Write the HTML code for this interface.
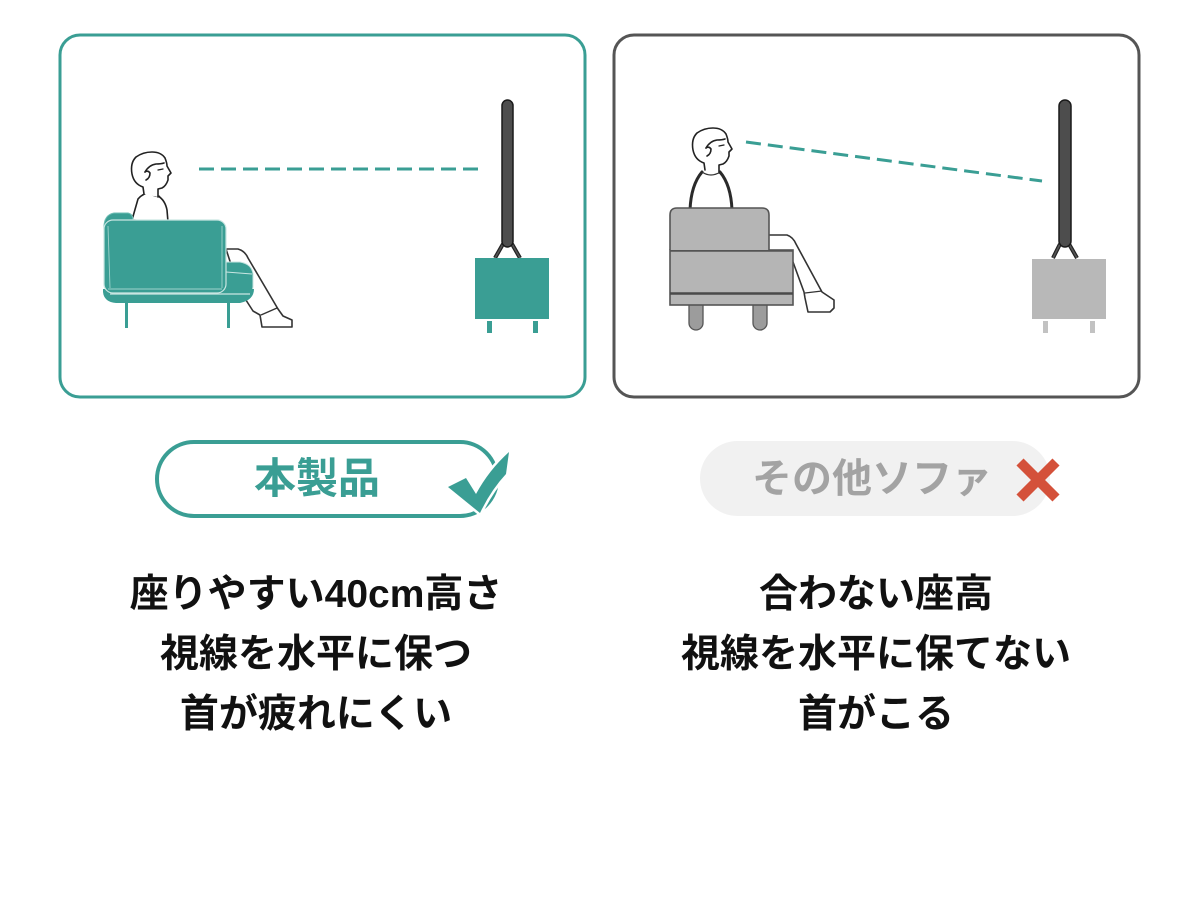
<!DOCTYPE html>
<html><head><meta charset="utf-8">
<style>
html,body{margin:0;padding:0;background:#fff;}
body{width:1200px;height:916px;position:relative;overflow:hidden;font-family:"Liberation Sans","Noto Sans CJK JP",sans-serif;}
.t{position:absolute;font-weight:700;white-space:nowrap;font-family:"Liberation Sans","Noto Sans CJK JP",sans-serif;}
.main{font-size:39px;line-height:60px;color:#111;text-align:center;width:560px;}
</style></head><body>
<svg width="1200" height="916" viewBox="0 0 1200 916" style="position:absolute;left:0;top:0">
  <!-- panels -->
  <rect x="60" y="35" width="525" height="362" rx="20" fill="#fff" stroke="#3a9e94" stroke-width="3"/>
  <rect x="614" y="35" width="525" height="362" rx="20" fill="#fff" stroke="#555" stroke-width="3"/>

  <!-- LEFT dashed -->
  <line x1="199" y1="169" x2="482" y2="169" stroke="#3a9e94" stroke-width="3" stroke-dasharray="15 7"/>
  <!-- LEFT TV -->
  <path d="M503 244 L495 258 M512 244 L520 258" stroke="#222" stroke-width="4" fill="none"/>
  <path d="M503 244 L495 258 M512 244 L520 258" stroke="#555" stroke-width="1.6" fill="none"/>
  <rect x="502" y="100" width="11" height="147" rx="5.5" fill="#4d4d4d" stroke="#1a1a1a" stroke-width="1.5"/>
  <rect x="475" y="258" width="74" height="61" fill="#3a9e94"/>
  <rect x="487" y="321" width="5" height="12" fill="#3a9e94"/>
  <rect x="533" y="321" width="5" height="12" fill="#3a9e94"/>

  <!-- LEFT person leg -->
  <path d="M226 249 L238 249 Q245 251 248 258 L278 309 L283 316 L292 320 L292 327 L262 327 L260 315 L253 311 L244 297 L240 292 Z" fill="#fff" stroke="#333" stroke-width="1.6" stroke-linejoin="round"/>
  <path d="M261 315 L277 308" stroke="#333" stroke-width="1.4" fill="none"/>
  <!-- LEFT person torso -->
  <path d="M132 220 L138 199 Q143 193 150 193 L158 196 Q165 200 167 210 L168 222 Z" fill="#fff" stroke="#222" stroke-width="1.6"/>
  <path d="M150 193 Q155 198 160 196" stroke="#222" stroke-width="1.2" fill="none"/>
  <!-- LEFT head -->
  <g id="headL" fill="#fff" stroke="#222" stroke-width="1.6" stroke-linejoin="round" stroke-linecap="round">
    <path d="M144 194 L143 187 Q134 184 132 174 Q130 163 136 157 Q143 152 152 152 Q161 152 165 158 Q167 163 167 166 L171 173 L168 176 L168 180 Q166 186 162 188 L158 189 L158 197"/>
    <path d="M145 172 Q148 170 150 173 Q150 178 146 180" fill="none"/>
    <path d="M145 172 Q149 165 156 164 Q161 164 164 163" fill="none"/>
    <path d="M158 170 L163 169" fill="none" stroke-width="1.3"/>
  </g>
  <!-- LEFT sofa -->
  <path d="M104 230 Q103 215 114 213 L128 213 Q133 214 133 220 L133 230 Z" fill="#3a9e94" stroke="#6fbdb4" stroke-width="1"/>
  <path d="M222 262 L240 262 Q252 264 253 274 L253 287 Q252 296 240 300 L222 300 Z" fill="#3a9e94" stroke="#c9e6e2" stroke-width="1"/>
  <path d="M103 289 L254 289 Q254 300 240 303 L116 303 Q104 302 103 292 Z" fill="#3a9e94"/>
  <path d="M110 294 L250 294" stroke="#c9e6e2" stroke-width="1.2"/>
  <rect x="104" y="220" width="122" height="73" rx="9" fill="#3a9e94" stroke="#c9e6e2" stroke-width="1.2"/>
  <path d="M108 226 L110 288 M222 226 L222 288 M108 289 L222 289" stroke="#9fd3cc" stroke-width="0.9" fill="none"/>
  <path d="M226 272 L252 274" stroke="#c9e6e2" stroke-width="1" fill="none"/>
  <rect x="125" y="303" width="3" height="25" fill="#3a9e94"/>
  <rect x="227" y="303" width="3" height="25" fill="#3a9e94"/>

  <!-- RIGHT dashed -->
  <line x1="746" y1="142" x2="1042" y2="181" stroke="#3a9e94" stroke-width="3" stroke-dasharray="15 7"/>
  <!-- RIGHT TV -->
  <path d="M1060 244 L1053 258 M1069 244 L1077 258" stroke="#222" stroke-width="4" fill="none"/>
  <path d="M1060 244 L1053 258 M1069 244 L1077 258" stroke="#555" stroke-width="1.6" fill="none"/>
  <rect x="1059" y="100" width="12" height="147" rx="6" fill="#4d4d4d" stroke="#1a1a1a" stroke-width="1.5"/>
  <rect x="1032" y="259" width="74" height="60" fill="#b8b8b8"/>
  <rect x="1043" y="321" width="5" height="12" fill="#c2c2c2"/>
  <rect x="1090" y="321" width="5" height="12" fill="#c2c2c2"/>

  <!-- RIGHT person leg -->
  <path d="M766 235 L787 235 Q793 237 796 244 L822 292 L834 300 L834 308 L830 312 L808 312 L805 298 L804 292 L793 262 L766 262 Z" fill="#fff" stroke="#333" stroke-width="1.6" stroke-linejoin="round"/>
  <path d="M805 293 L822 291" stroke="#333" stroke-width="1.3" fill="none"/>
  <!-- RIGHT torso -->
  <path d="M690 210 Q691 185 702 172 L720 172 Q731 185 732 210 Z" fill="#fff"/>
  <path d="M690 210 Q691 185 702 172 M732 210 Q731 185 720 172" stroke="#2a2a2a" stroke-width="3" fill="none" stroke-linecap="round"/>
  <path d="M702 172 Q711 178 720 172" stroke="#333" stroke-width="1.2" fill="none"/>
  <!-- RIGHT head -->
  <g transform="translate(561,-24)" fill="#fff" stroke="#222" stroke-width="1.6" stroke-linejoin="round" stroke-linecap="round">
    <path d="M144 194 L143 187 Q134 184 132 174 Q130 163 136 157 Q143 152 152 152 Q161 152 165 158 Q167 163 167 166 L171 173 L168 176 L168 180 Q166 186 162 188 L158 189 L158 197"/>
    <path d="M145 172 Q148 170 150 173 Q150 178 146 180" fill="none"/>
    <path d="M145 172 Q149 165 156 164 Q161 164 164 163" fill="none"/>
    <path d="M158 170 L163 169" fill="none" stroke-width="1.3"/>
  </g>
  <!-- RIGHT sofa -->
  <rect x="689" y="298" width="14" height="32" rx="7" fill="#9c9c9c" stroke="#555" stroke-width="1.3"/>
  <rect x="753" y="298" width="14" height="32" rx="7" fill="#9c9c9c" stroke="#555" stroke-width="1.3"/>
  <rect x="670" y="250" width="123" height="55" fill="#b5b5b5" stroke="#555" stroke-width="1.6"/>
  <path d="M670 250 L670 215 Q670 208 677 208 L762 208 Q769 208 769 215 L769 250" fill="#b5b5b5" stroke="#555" stroke-width="1.6"/>
  <line x1="670" y1="251" x2="793" y2="251" stroke="#555" stroke-width="1.6"/>
  <line x1="670" y1="293.5" x2="793" y2="293.5" stroke="#4a4a4a" stroke-width="2.5"/>

  <!-- LEFT badge -->
  <rect x="157" y="442" width="340" height="74" rx="37" fill="#fff" stroke="#3a9e94" stroke-width="4"/>
  <path d="M448 487 L466 478 L476 494 Q489 470 509 452 L506 474 Q491 490 480 513 Z" fill="#3a9e94" stroke="#fff" stroke-width="5" stroke-linejoin="round"/>
  <path d="M448 487 L466 478 L476 494 Q489 470 509 452 L506 474 Q491 490 480 513 Z" fill="#3a9e94"/>

  <!-- RIGHT badge -->
  <rect x="700" y="441" width="350" height="75" rx="37.5" fill="#f1f1f1"/>
  <path d="M1020 462 L1056 498 M1056 462 L1020 498" stroke="#d4513a" stroke-width="10" stroke-linecap="butt"/>
</svg>

<div class="t" style="left:254px;top:441px;height:76px;line-height:76px;font-size:42px;color:#3a9e94;">本製品</div>
<div class="t" style="left:752px;top:441px;height:76px;line-height:76px;font-size:40px;color:#a3a3a3;">その他ソファ</div>

<div class="t main" style="left:36px;top:565px;">座りやすい40cm高さ<br>視線を水平に保つ<br>首が疲れにくい</div>
<div class="t main" style="left:596px;top:565px;">合わない座高<br>視線を水平に保てない<br>首がこる</div>
</body></html>
